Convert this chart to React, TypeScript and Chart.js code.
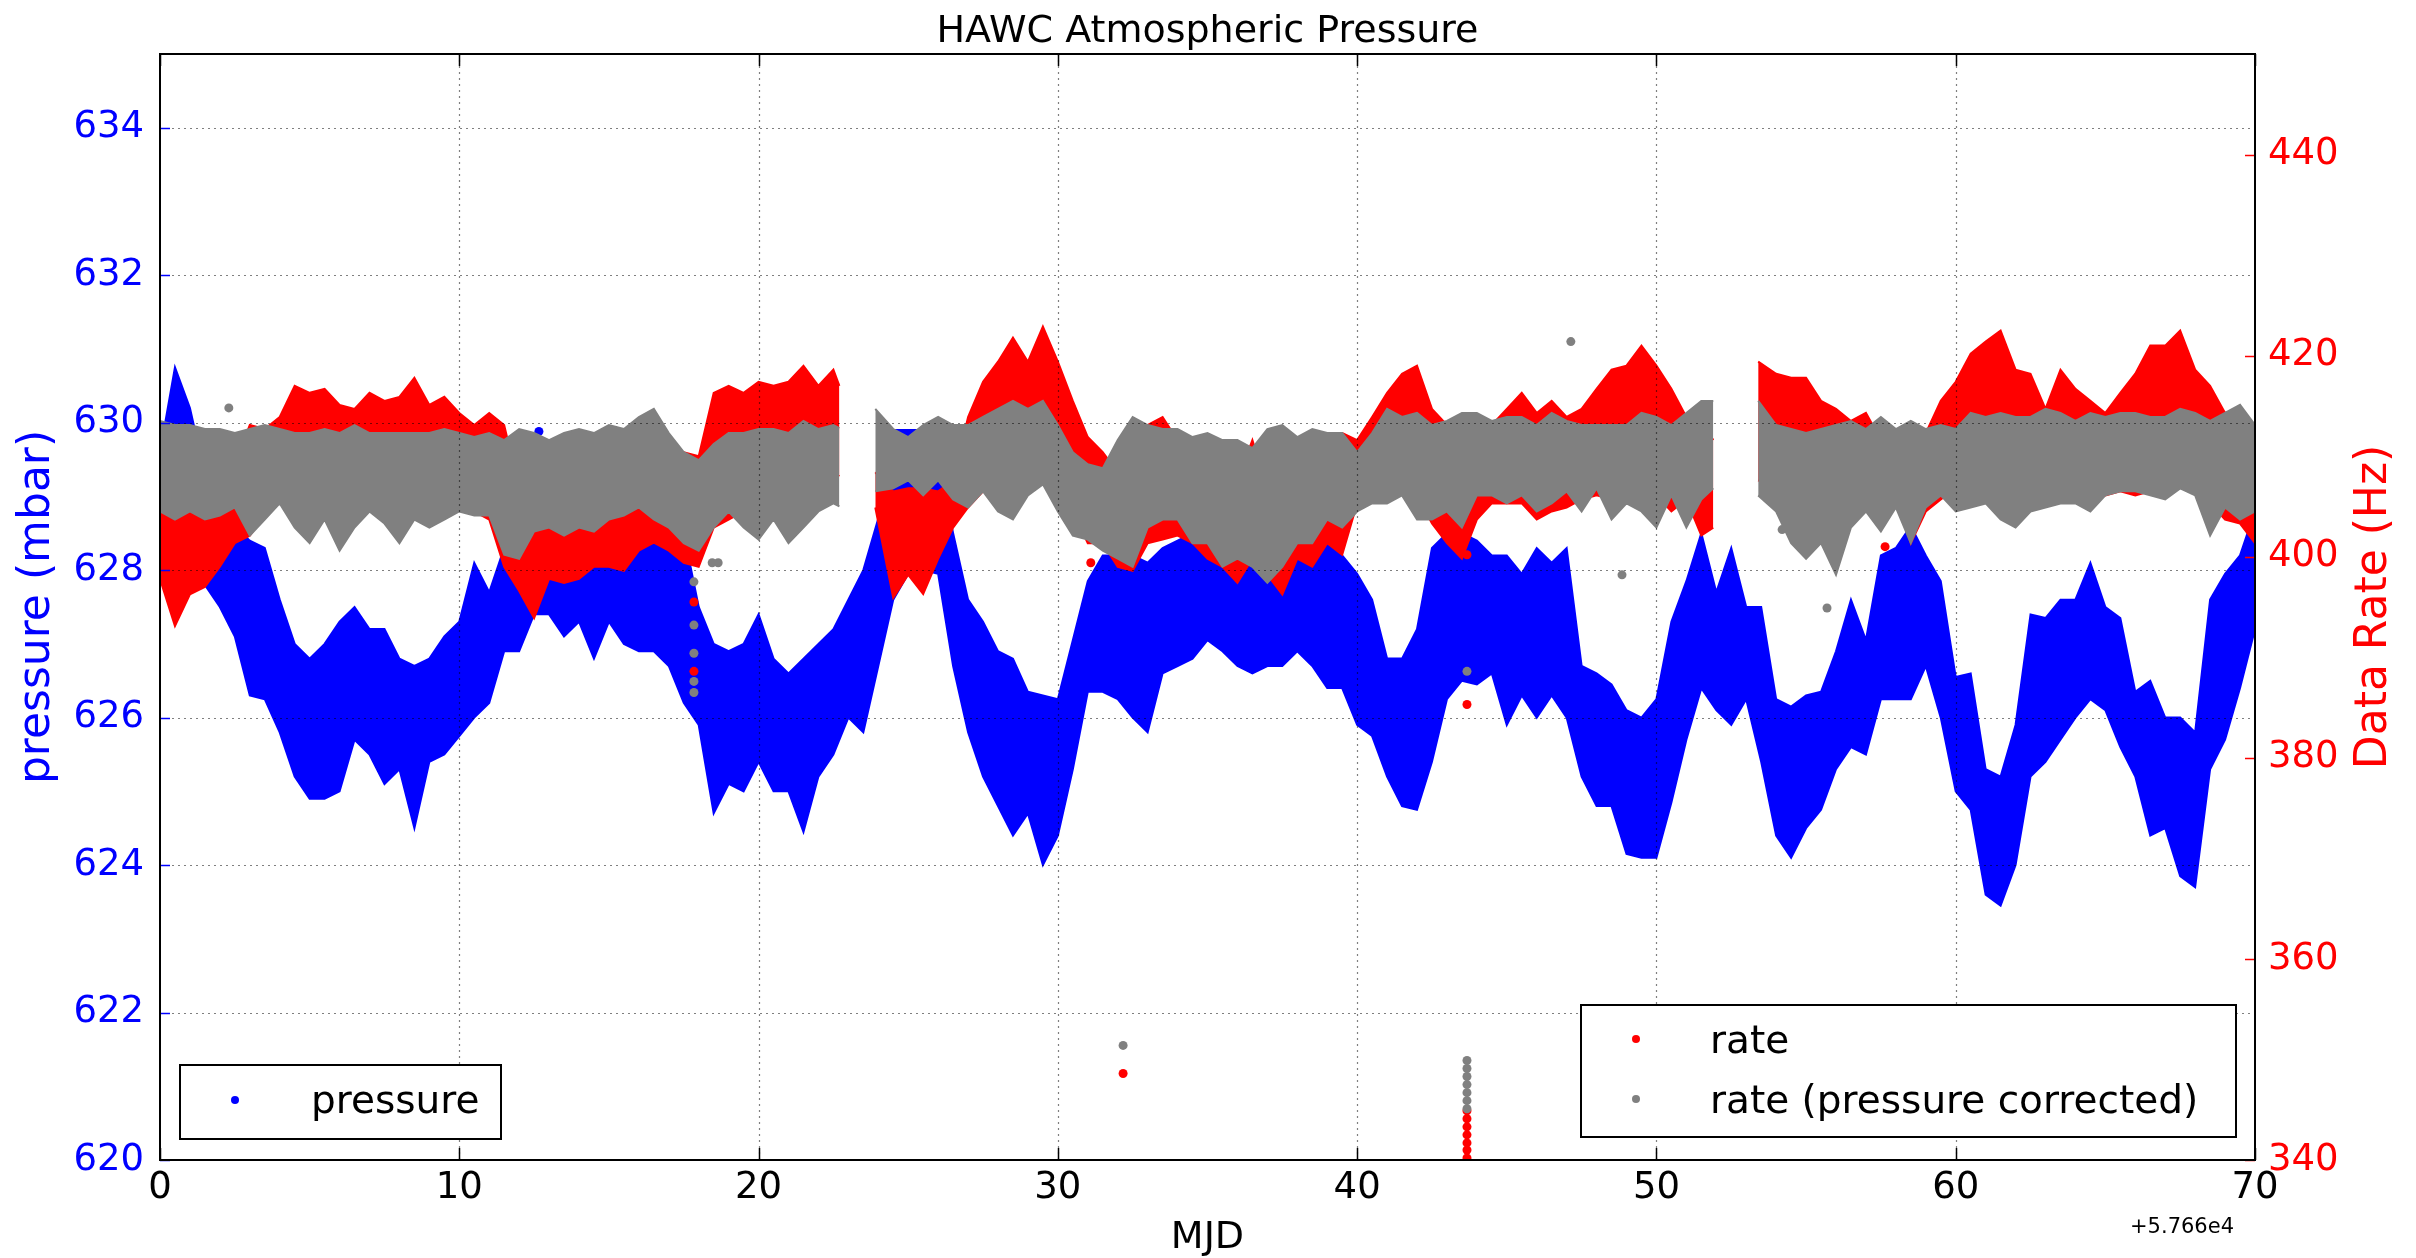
import React, { useEffect, useRef } from "react";
import { Chart, registerables } from "chart.js";

Chart.register(...registerables);

const FONT = '"DejaVu Sans", "Liberation Sans", sans-serif';
const BLUE = "#0000ff";
const RED = "#ff0000";
const GREY = "#808080";

const titleText = "HAWC Atmospheric Pressure";
const xLabel = "MJD";
const yLabelLeft = "pressure (mbar)";
const yLabelRight = "Data Rate (Hz)";
const offsetText = "+5.766e4";

const xTicks = [0, 10, 20, 30, 40, 50, 60, 70];
const pressureTicks = [620, 622, 624, 626, 628, 630, 632, 634];
const rateTicks = [340, 360, 380, 400, 420, 440];

// sample times (MJD - 57660)
const mjd = [
  0, 0.5, 1, 1.5, 2, 2.5, 3, 3.5, 4, 4.5,
  5, 5.5, 6, 6.5, 7, 7.5, 8, 8.5, 9, 9.5,
  10, 10.5, 11, 11.5, 12, 12.5, 13, 13.5, 14, 14.5,
  15, 15.5, 16, 16.5, 17, 17.5, 18, 18.5, 19, 19.5,
  20, 20.5, 21, 21.5, 22, 22.5, 23, 23.5, 24, 24.5,
  25, 25.5, 26, 26.5, 27, 27.5, 28, 28.5, 29, 29.5,
  30, 30.5, 31, 31.5, 32, 32.5, 33, 33.5, 34, 34.5,
  35, 35.5, 36, 36.5, 37, 37.5, 38, 38.5, 39, 39.5,
  40, 40.5, 41, 41.5, 42, 42.5, 43, 43.5, 44, 44.5,
  45, 45.5, 46, 46.5, 47, 47.5, 48, 48.5, 49, 49.5,
  50, 50.5, 51, 51.5, 52, 52.5, 53, 53.5, 54, 54.5,
  55, 55.5, 56, 56.5, 57, 57.5, 58, 58.5, 59, 59.5,
  60, 60.5, 61, 61.5, 62, 62.5, 63, 63.5, 64, 64.5,
  65, 65.5, 66, 66.5, 67, 67.5, 68, 68.5, 69, 69.5,
  70,
];

// pressure envelope (mbar)
const pressureLow = [
  627.9, 628.2, 628.0, 627.8, 627.5, 627.1, 626.3, 626.25, 625.8, 625.2,
  624.9, 624.9, 625.0, 625.7, 625.5, 625.1, 625.3, 624.5, 625.4, 625.5,
  625.75, 626.0, 626.2, 626.9, 626.9, 627.4, 627.4, 627.1, 627.3, 626.8,
  627.3, 627.0, 626.9, 626.9, 626.7, 626.2, 625.9, 624.7, 625.1, 625.0,
  625.4, 625.0, 625.0, 624.45, 625.2, 625.5, 626.0, 625.8, 626.7, 627.6,
  627.95, 628.0, 627.95, 626.7, 625.8, 625.2, 624.8, 624.4, 624.7, 624.0,
  624.4, 625.3, 626.35, 626.35, 626.25, 626.0, 625.8, 626.6, 626.7, 626.8,
  627.05, 626.9, 626.7, 626.6, 626.7, 626.7, 626.9, 626.7, 626.4, 626.4,
  625.9, 625.75, 625.2, 624.8, 624.75, 625.4, 626.25, 626.5, 626.45, 626.6,
  625.9, 626.3, 626.0, 626.3, 626.0, 625.2, 624.8, 624.8, 624.15, 624.1,
  624.1, 624.85, 625.7, 626.4, 626.1, 625.9, 626.25, 625.4, 624.4, 624.1,
  624.5, 624.75, 625.3, 625.6, 625.5, 626.25, 626.25, 626.25, 626.7, 626.0,
  625.0, 624.75, 623.6, 623.45, 624.0, 625.2, 625.4, 625.7, 626.0, 626.25,
  626.1, 625.6, 625.2, 624.4, 624.5, 623.85, 623.7, 625.3, 625.7, 626.4,
  627.2,
];
const pressureHigh = [
  629.6, 630.75, 630.2, 629.3, 628.8, 628.6, 628.4, 628.3, 627.6, 627.0,
  626.8, 627.0, 627.3, 627.5, 627.2, 627.2, 626.8, 626.7, 626.8, 627.1,
  627.3, 628.1, 627.7, 628.3, 628.7, 628.9, 628.6, 628.7, 628.6, 628.5,
  628.6, 628.6, 628.5, 628.4, 628.5, 628.5, 627.5, 627.0, 626.9, 627.0,
  627.4, 626.8, 626.6, 626.8, 627.0, 627.2, 627.6, 628.0, 628.7, 629.9,
  629.9, 629.9, 629.5, 628.5, 627.6, 627.3, 626.9, 626.8, 626.35, 626.3,
  626.25, 627.05, 627.85, 628.2, 628.2, 628.2, 628.1, 628.3, 628.4, 628.5,
  628.5, 628.5, 628.5, 628.4, 628.4, 628.3, 628.5, 628.4, 628.4, 628.2,
  627.95, 627.6, 626.8, 626.8, 627.2, 628.3, 628.5, 628.5, 628.4, 628.2,
  628.2, 627.95, 628.3, 628.1, 628.3, 626.7, 626.6, 626.45, 626.1, 626.0,
  626.25, 627.3, 627.85, 628.5, 627.7, 628.3, 627.5, 627.5, 626.25, 626.15,
  626.3, 626.35, 626.9, 627.6, 627.05, 628.2, 628.3, 628.6, 628.2, 627.85,
  626.55, 626.6, 625.3, 625.2, 625.9, 627.4, 627.35, 627.6, 627.6, 628.1,
  627.5, 627.35, 626.35, 626.5, 626.0, 626.0, 625.8, 627.6, 627.95, 628.2,
  628.8,
];
const pressureOutMjd = [12.66, 13.64];
const pressureOutVal = [629.88, 629.56];

// sample times of the rate data (two gaps)
const rateMjd = [
  0, 0.5, 1, 1.5, 2, 2.5, 3, 3.5, 4, 4.5,
  5, 5.5, 6, 6.5, 7, 7.5, 8, 8.5, 9, 9.5,
  10, 10.5, 11, 11.5, 12, 12.5, 13, 13.5, 14, 14.5,
  15, 15.5, 16, 16.5, 17, 17.5, 18, 18.5, 19, 19.5,
  20, 20.5, 21, 21.5, 22, 22.5, 22.7, 23.5, 23.9, 24.5,
  25, 25.5, 26, 26.5, 27, 27.5, 28, 28.5, 29, 29.5,
  30, 30.5, 31, 31.5, 32, 32.5, 33, 33.5, 34, 34.5,
  35, 35.5, 36, 36.5, 37, 37.5, 38, 38.5, 39, 39.5,
  40, 40.5, 41, 41.5, 42, 42.5, 43, 43.5, 44, 44.5,
  45, 45.5, 46, 46.5, 47, 47.5, 48, 48.5, 49, 49.5,
  50, 50.5, 51, 51.5, 51.9, 52.5, 53, 53.4, 54, 54.5,
  55, 55.5, 56, 56.5, 57, 57.5, 58, 58.5, 59, 59.5,
  60, 60.5, 61, 61.5, 62, 62.5, 63, 63.5, 64, 64.5,
  65, 65.5, 66, 66.5, 67, 67.5, 68, 68.5, 69, 69.5,
  70,
];

// raw rate envelope (Hz)
const rateLow = [
  397.8, 393.1, 396.25, 397.0, 399.0, 401.35, 402.1, 404.1, 405.7, 406.8,
  407.6, 408.4, 408.8, 408.4, 408.4, 408.8, 407.6, 407.6, 408.4, 407.6,
  406.8, 404.5, 403.7, 399.0, 396.6, 393.9, 397.8, 397.4, 397.8, 399.0,
  399.0, 398.6, 400.6, 401.4, 400.6, 399.4, 399.0, 402.9, 403.7, 404.5,
  405.3, 406.1, 406.5, 406.8, 406.5, 408.4, 408.0, null, 404.9, 395.9,
  398.2, 396.3, 399.8, 402.9, 404.9, 406.5, 406.8, 406.5, 407.6, 408.4,
  407.6, 404.5, 401.35, 401.35, 399.0, 398.6, 401.35, 401.7, 402.1, 401.35,
  399.8, 399.0, 397.4, 399.8, 398.2, 396.25, 399.8, 399.0, 401.35, 400.2,
  405.3, 406.8, 406.1, 407.6, 406.1, 403.3, 401.35, 399.8, 403.7, 405.3,
  405.3, 405.3, 403.7, 404.5, 404.9, 405.7, 406.1, 405.7, 406.5, 406.8,
  406.1, 404.5, 405.7, 402.1, 402.9, null, null, 407.6, 406.8, 407.6,
  406.8, 407.2, 406.5, 406.1, 405.3, 403.7, 406.1, 401.35, 404.5, 405.7,
  406.8, 407.6, 408.4, 408.0, 407.6, 406.8, 407.6, 406.5, 406.8, 406.1,
  406.1, 406.5, 406.1, 406.5, 406.8, 407.6, 406.5, 405.3, 403.7, 403.3,
  401.35,
];
const rateHigh = [
  406.8, 406.1, 406.5, 406.5, 409.6, 409.2, 413.1, 412.7, 413.9, 417.0,
  416.3, 416.7, 415.1, 414.7, 416.3, 415.5, 415.9, 417.8, 415.1, 415.9,
  414.3, 413.1, 414.3, 413.1, 406.8, 406.1, 406.1, 406.1, 406.8, 406.8,
  406.8, 406.8, 406.8, 407.6, 410.4, 410.4, 410.0, 416.3, 417.0, 416.3,
  417.4, 417.0, 417.4, 419.0, 417.0, 418.6, 417.0, null, 408.4, 406.5,
  406.8, 406.8, 406.5, 407.6, 413.9, 417.4, 419.4, 421.8, 419.4, 422.9,
  419.4, 415.5, 411.9, 410.4, 408.4, 410.4, 413.1, 413.9, 411.6, 407.6,
  406.8, 407.6, 407.6, 411.6, 406.8, 406.8, 406.8, 406.8, 412.3, 412.3,
  411.6, 413.9, 416.3, 418.2, 419.0, 414.7, 413.1, 413.9, 412.7, 413.1,
  414.7, 416.3, 414.3, 415.5, 413.9, 414.7, 416.7, 418.6, 419.0, 421.0,
  419.0, 416.7, 413.9, 413.5, 411.6, null, null, 419.4, 418.2, 417.8,
  417.8, 415.5, 414.7, 413.5, 414.3, 411.6, 410.8, 410.4, 412.3, 415.5,
  417.4, 420.2, 421.4, 422.5, 418.6, 418.2, 414.7, 418.6, 416.7, 415.5,
  414.3, 416.3, 418.2, 421.0, 421.0, 422.5, 418.6, 417.0, 414.3, 414.7,
  410.8,
];
const rateOutMjd = [17.84, 17.84, 31.1, 32.18, 43.67, 43.67, 43.67, 43.67, 43.67, 43.67, 43.67, 43.67, 43.67, 57.64];
const rateOutVal = [395.5, 388.6, 399.4, 348.6, 400.2, 385.3, 344.9, 344.1, 343.3, 342.5, 341.7, 341.0, 340.2, 401.0];

// pressure-corrected rate envelope (Hz)
const corrLow = [
  404.5, 403.7, 404.5, 403.7, 404.1, 404.9, 402.1, 403.7, 405.3, 402.9,
  401.35, 403.7, 400.6, 402.9, 404.5, 403.3, 401.35, 403.7, 402.9, 403.7,
  404.5, 404.1, 404.1, 400.2, 399.8, 402.5, 402.9, 402.1, 402.9, 402.5,
  403.7, 404.1, 404.9, 403.7, 402.9, 401.35, 400.6, 402.9, 404.5, 402.9,
  401.7, 403.7, 401.35, 402.9, 404.5, 405.3, 405.0, null, 406.5, 406.8,
  407.6, 406.1, 407.6, 405.7, 404.9, 406.5, 404.5, 403.7, 406.1, 407.2,
  404.5, 402.1, 401.7, 400.6, 399.8, 399.0, 402.9, 403.7, 403.7, 401.35,
  401.35, 399.0, 399.8, 399.0, 397.4, 399.0, 401.35, 401.35, 403.7, 402.9,
  404.5, 405.3, 405.3, 406.1, 403.7, 403.7, 404.5, 402.9, 406.1, 406.1,
  405.3, 406.1, 404.5, 405.3, 406.5, 404.5, 406.8, 403.7, 405.3, 404.5,
  402.9, 406.1, 402.9, 405.7, 406.8, null, null, 406.1, 404.5, 401.35,
  399.8, 401.35, 398.2, 402.9, 404.5, 402.5, 404.9, 401.35, 404.9, 406.1,
  404.5, 404.9, 405.3, 403.7, 402.9, 404.5, 404.9, 405.3, 405.3, 404.5,
  406.1, 406.5, 406.5, 406.1, 405.7, 406.8, 406.1, 402.1, 404.9, 403.7,
  404.5,
];
const corrHigh = [
  413.5, 413.1, 413.1, 412.7, 412.7, 412.3, 412.7, 413.1, 412.7, 412.3,
  412.3, 412.7, 412.3, 413.1, 412.3, 412.3, 412.3, 412.3, 412.3, 412.7,
  412.3, 411.9, 412.3, 411.6, 412.7, 412.3, 411.6, 412.3, 412.7, 412.3,
  413.1, 412.7, 413.9, 414.7, 412.3, 410.4, 409.6, 411.2, 412.3, 412.3,
  412.7, 412.7, 412.3, 413.5, 412.7, 413.1, 412.8, null, 414.7, 412.7,
  411.9, 413.1, 413.9, 413.1, 413.1, 413.9, 414.7, 415.5, 414.7, 415.5,
  413.1, 410.4, 409.2, 408.8, 411.6, 413.9, 413.1, 412.7, 412.7, 411.9,
  412.3, 411.6, 411.6, 410.8, 412.7, 413.1, 411.9, 412.7, 412.3, 412.3,
  410.4, 412.3, 414.7, 413.9, 414.3, 413.1, 413.5, 414.3, 414.3, 413.5,
  413.9, 413.9, 413.1, 414.3, 413.5, 413.1, 413.1, 413.1, 413.1, 414.3,
  413.9, 413.1, 414.3, 415.5, 415.5, null, null, 415.5, 413.1, 412.7,
  412.3, 412.7, 413.1, 413.5, 412.7, 413.9, 412.7, 413.5, 412.7, 413.1,
  412.7, 414.3, 413.9, 414.3, 413.9, 413.9, 414.7, 414.3, 413.5, 414.3,
  413.9, 414.3, 414.3, 413.9, 413.9, 414.7, 414.3, 413.5, 414.3, 415.1,
  413.1,
];
const corrOutMjd = [
  2.3, 17.84, 17.84, 17.84, 17.84, 17.84, 18.45, 18.65, 32.18,
  43.67, 43.67, 43.67, 43.67, 43.67, 43.67, 43.67, 43.67,
  47.14, 48.85, 54.2, 55.7,
];
const corrOutVal = [
  414.8, 397.5, 393.2, 390.4, 387.6, 386.5, 399.4, 399.4, 351.4,
  388.6, 349.9, 349.1, 348.3, 347.5, 346.7, 345.9, 345.1,
  421.4, 398.2, 402.7, 394.9,
];

type Pt = { x: number; y: number };

function segmentsOf(xs: number[], ys: (number | null)[]): Pt[][] {
  const out: Pt[][] = [];
  let cur: Pt[] = [];
  xs.forEach((x, i) => {
    const y = ys[i];
    if (y === null || y === undefined) {
      if (cur.length) out.push(cur);
      cur = [];
    } else {
      cur.push({ x, y });
    }
  });
  if (cur.length) out.push(cur);
  return out;
}

function bandDatasets(
  xs: number[],
  lo: (number | null)[],
  hi: (number | null)[],
  color: string,
  axis: string,
  order: number,
  label: string
) {
  const hiSegs = segmentsOf(xs, hi);
  const loSegs = segmentsOf(xs, lo);
  const out: any[] = [];
  hiSegs.forEach((seg, i) => {
    const common = {
      label,
      borderColor: color,
      backgroundColor: color,
      borderWidth: 2,
      pointRadius: 0,
      pointHoverRadius: 0,
      tension: 0,
      yAxisID: axis,
      order,
      clip: 0,
    };
    out.push({ ...common, data: seg, fill: "+1" });
    out.push({ ...common, data: loSegs[i], fill: false });
  });
  return out;
}

function pointsDataset(xs: number[], ys: number[], color: string, axis: string, order: number, label: string) {
  return {
    label,
    data: xs.map((x, i) => ({ x, y: ys[i] })),
    showLine: false,
    pointRadius: 4.5,
    pointHoverRadius: 4.5,
    pointBorderWidth: 0,
    pointBackgroundColor: color,
    borderColor: color,
    backgroundColor: color,
    yAxisID: axis,
    order,
    clip: 0,
  };
}

const overlayPlugin = {
  id: "overlay",
  afterDatasetsDraw(chart: any) {
    const { ctx, chartArea: a, scales } = chart;
    ctx.save();
    // grid lines (on top of the data, dotted)
    ctx.strokeStyle = "rgba(0,0,0,0.5)";
    ctx.lineWidth = 1.2;
    ctx.setLineDash([2, 4]);
    xTicks.forEach((v) => {
      if (v <= 0 || v >= 70) return;
      const px = Math.round(scales.x.getPixelForValue(v)) + 0.5;
      ctx.beginPath();
      ctx.moveTo(px, a.top);
      ctx.lineTo(px, a.bottom);
      ctx.stroke();
    });
    pressureTicks.forEach((v) => {
      if (v <= 620) return;
      const py = Math.round(scales.y.getPixelForValue(v)) + 0.5;
      ctx.beginPath();
      ctx.moveTo(a.left, py);
      ctx.lineTo(a.right, py);
      ctx.stroke();
    });
    ctx.setLineDash([]);
    // inward tick marks
    ctx.lineWidth = 1.5;
    ctx.strokeStyle = "#000";
    xTicks.forEach((v) => {
      const px = Math.round(scales.x.getPixelForValue(v)) + 0.5;
      ctx.beginPath();
      ctx.moveTo(px, a.bottom);
      ctx.lineTo(px, a.bottom - 12);
      ctx.moveTo(px, a.top);
      ctx.lineTo(px, a.top + 12);
      ctx.stroke();
    });
    ctx.strokeStyle = BLUE;
    pressureTicks.forEach((v) => {
      const py = Math.round(scales.y.getPixelForValue(v)) + 0.5;
      ctx.beginPath();
      ctx.moveTo(a.left, py);
      ctx.lineTo(a.left + 10, py);
      ctx.stroke();
    });
    ctx.strokeStyle = RED;
    rateTicks.forEach((v) => {
      const py = Math.round(scales.y2.getPixelForValue(v)) + 0.5;
      ctx.beginPath();
      ctx.moveTo(a.right, py);
      ctx.lineTo(a.right - 10, py);
      ctx.stroke();
    });
    // frame
    ctx.strokeStyle = "#000";
    ctx.lineWidth = 2;
    ctx.strokeRect(a.left, a.top, a.right - a.left, a.bottom - a.top);
    ctx.restore();
  },
  afterDraw(chart: any) {
    const { ctx, chartArea: a } = chart;
    const cx = (a.left + a.right) / 2;
    const cy = (a.top + a.bottom) / 2;
    ctx.save();
    // title
    ctx.fillStyle = "#000";
    ctx.textAlign = "center";
    ctx.textBaseline = "alphabetic";
    ctx.font = `38px ${FONT}`;
    ctx.fillText(titleText, cx, 42);
    // x label
    ctx.font = `38px ${FONT}`;
    ctx.fillText(xLabel, cx, 1248);
    // offset text
    ctx.font = `21px ${FONT}`;
    ctx.textAlign = "right";
    ctx.fillText(offsetText, 2234, 1233);
    // y labels
    ctx.font = `44px ${FONT}`;
    ctx.textAlign = "center";
    ctx.save();
    ctx.translate(49, cy);
    ctx.rotate(-Math.PI / 2);
    ctx.fillStyle = BLUE;
    ctx.fillText(yLabelLeft, 0, 0);
    ctx.restore();
    ctx.save();
    ctx.translate(2386, cy);
    ctx.rotate(-Math.PI / 2);
    ctx.fillStyle = RED;
    ctx.fillText(yLabelRight, 0, 0);
    ctx.restore();

    // legends
    const box = (x: number, y: number, w: number, h: number) => {
      ctx.fillStyle = "#fff";
      ctx.fillRect(x, y, w, h);
      ctx.strokeStyle = "#000";
      ctx.lineWidth = 2;
      ctx.strokeRect(x, y, w, h);
    };
    const entry = (mx: number, my: number, color: string, tx: number, base: number, text: string) => {
      ctx.fillStyle = color;
      ctx.beginPath();
      ctx.arc(mx, my, 4, 0, Math.PI * 2);
      ctx.fill();
      ctx.fillStyle = "#000";
      ctx.font = `39px ${FONT}`;
      ctx.textAlign = "left";
      ctx.textBaseline = "alphabetic";
      ctx.fillText(text, tx, base);
    };
    box(180, 1065, 321, 74);
    entry(235, 1100, BLUE, 311, 1113, "pressure");
    box(1581, 1005, 655, 132);
    entry(1636, 1039, RED, 1710, 1053, "rate");
    entry(1636, 1099, GREY, 1710, 1113, "rate (pressure corrected)");
    ctx.restore();
  },
};

export default function App() {
  const canvasRef = useRef<HTMLCanvasElement | null>(null);

  useEffect(() => {
    const canvas = canvasRef.current;
    if (!canvas) return;

    const datasets: any[] = [
      ...bandDatasets(mjd, pressureLow, pressureHigh, BLUE, "y", 3, "pressure"),
      pointsDataset(pressureOutMjd, pressureOutVal, BLUE, "y", 3, "pressure"),
      ...bandDatasets(rateMjd, rateLow, rateHigh, RED, "y2", 2, "rate"),
      pointsDataset(rateOutMjd, rateOutVal, RED, "y2", 2, "rate"),
      ...bandDatasets(rateMjd, corrLow, corrHigh, GREY, "y2", 1, "rate (pressure corrected)"),
      pointsDataset(corrOutMjd, corrOutVal, GREY, "y2", 1, "rate (pressure corrected)"),
    ];

    const tickFont = { family: FONT, size: 37 };

    const chart = new Chart(canvas, {
      type: "line",
      data: { datasets },
      plugins: [overlayPlugin as any],
      options: {
        responsive: false,
        animation: false,
        events: [],
        layout: { padding: { top: 54, left: 0, right: 0, bottom: 0 } },
        plugins: {
          legend: { display: false },
          tooltip: { enabled: false },
          title: { display: false },
        },
        scales: {
          x: {
            type: "linear",
            position: "bottom",
            min: 0,
            max: 70,
            afterBuildTicks: (s: any) => {
              s.ticks = xTicks.map((v) => ({ value: v }));
            },
            ticks: { font: tickFont, color: "#000", padding: 6, maxRotation: 0, autoSkip: false },
            grid: { display: false, drawTicks: false, tickLength: 0 },
            border: { display: false },
            afterFit: (s: any) => {
              s.height = 98;
            },
          },
          y: {
            type: "linear",
            position: "left",
            min: 620,
            max: 635,
            afterBuildTicks: (s: any) => {
              s.ticks = pressureTicks.map((v) => ({ value: v }));
            },
            ticks: { font: tickFont, color: BLUE, padding: 16, autoSkip: false },
            grid: { display: false, drawTicks: false, tickLength: 0 },
            border: { display: false },
            afterFit: (s: any) => {
              s.width = 160;
            },
          },
          y2: {
            type: "linear",
            position: "right",
            min: 340,
            max: 450,
            afterBuildTicks: (s: any) => {
              s.ticks = rateTicks.map((v) => ({ value: v }));
            },
            ticks: { font: tickFont, color: RED, padding: 13, autoSkip: false },
            grid: { display: false, drawTicks: false, tickLength: 0 },
            border: { display: false },
            afterFit: (s: any) => {
              s.width = 161;
            },
          },
        },
      } as any,
    });

    return () => {
      chart.destroy();
    };
  }, []);

  return (
    <div style={{ position: "absolute", left: 0, top: 0, width: 2416, height: 1258, background: "#fff" }}>
      <canvas ref={canvasRef} width={2416} height={1258} style={{ display: "block" }} />
    </div>
  );
}
